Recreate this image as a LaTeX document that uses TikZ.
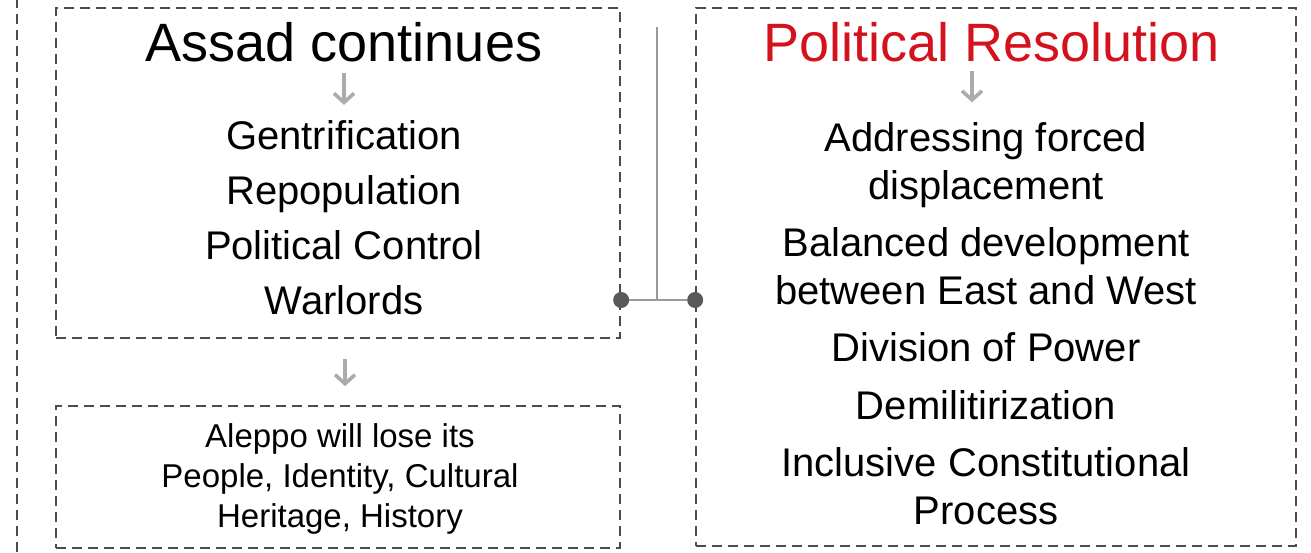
\documentclass[tikz,border=0pt]{standalone}
\usepackage{fontspec}
\setmainfont{Liberation Sans}
\usetikzlibrary{arrows.meta,positioning}
\definecolor{resred}{RGB}{212,18,30}
\tikzset{
  frame/.style={draw=black!70, line width=2.3pt, dash pattern=on 10pt off 6pt, rectangle, fill=none},
  heading/.style={inner sep=0pt, font=\fontsize{54}{60}\selectfont, anchor=base},
  items/.style={inner sep=0pt, align=center, font=\fontsize{40}{55}\selectfont, anchor=base},
  small/.style={inner sep=0pt, align=center, font=\fontsize{33}{40}\selectfont, anchor=base},
  flow/.style={->, line width=3.6pt, draw=black!33, >={Straight Barb[length=9pt,width=20pt]}},
  joint/.style={circle, fill=black!65, inner sep=0pt, minimum size=16pt},
  link/.style={line width=1.6pt, draw=black!40}
}

\begin{document}
\begin{tikzpicture}[x=1pt, y=1pt]
  \useasboundingbox (0,0) rectangle (1311,552);
  % cut-off frame on the left edge
  \draw[frame] (17,0) -- (17,552);

  \node[frame, minimum width=564pt, minimum height=330pt] (boxAssad) at (338,379) {};
  \node[frame, minimum width=564pt, minimum height=142pt, below=66pt of boxAssad] (boxLoss) {};
  \node[frame, minimum width=600pt, minimum height=538pt, right=74pt of boxAssad.north east, anchor=north west] (boxPeace) {};

  % base anchor sits on the last line
  \node[heading] (titleAssad) at (344,490) {Assad continues};
  \node[items] (listAssad) at (344,237) {Gentrification\\Repopulation\\Political Control\\Warlords};
  \node[small] (listLoss) at (340,25) {Aleppo will lose its\\People, Identity, Cultural\\Heritage, History};

  \node[heading, text=resred] (titlePeace) at (992,490) {Political Resolution};
  \node[items, font=\fontsize{40}{47.5}\selectfont] (listPeace) at (986,28)
    {Addressing forced\\displacement\\[10pt]Balanced development\\between East and West\\[10pt]Division of Power\\[10pt]Demilitirization\\[10pt]Inclusive Constitutional\\Process};

  \draw[flow, shorten <=10pt, shorten >=16pt] (titleAssad.south) -- (listAssad.north);
  \draw[flow, shorten <=20pt, shorten >=19pt] ([xshift=7pt]boxAssad.south) -- ([xshift=7pt]boxLoss.north);
  \draw[flow, shorten <=8pt, shorten >=20pt] ([xshift=-20pt]titlePeace.south) -- ([xshift=-20pt]titlePeace.south |- listPeace.north);

  % link between the two scenarios
  \node[joint] (jointL) at (boxAssad.east |- 0,252) {};
  \node[joint] (jointR) at (boxPeace.west |- 0,252) {};
  \coordinate (stem) at (657,525);
  \draw[link] (jointL) -- (jointR);
  \draw[link] (stem) -- (stem |- jointL);
\end{tikzpicture}
\end{document}
